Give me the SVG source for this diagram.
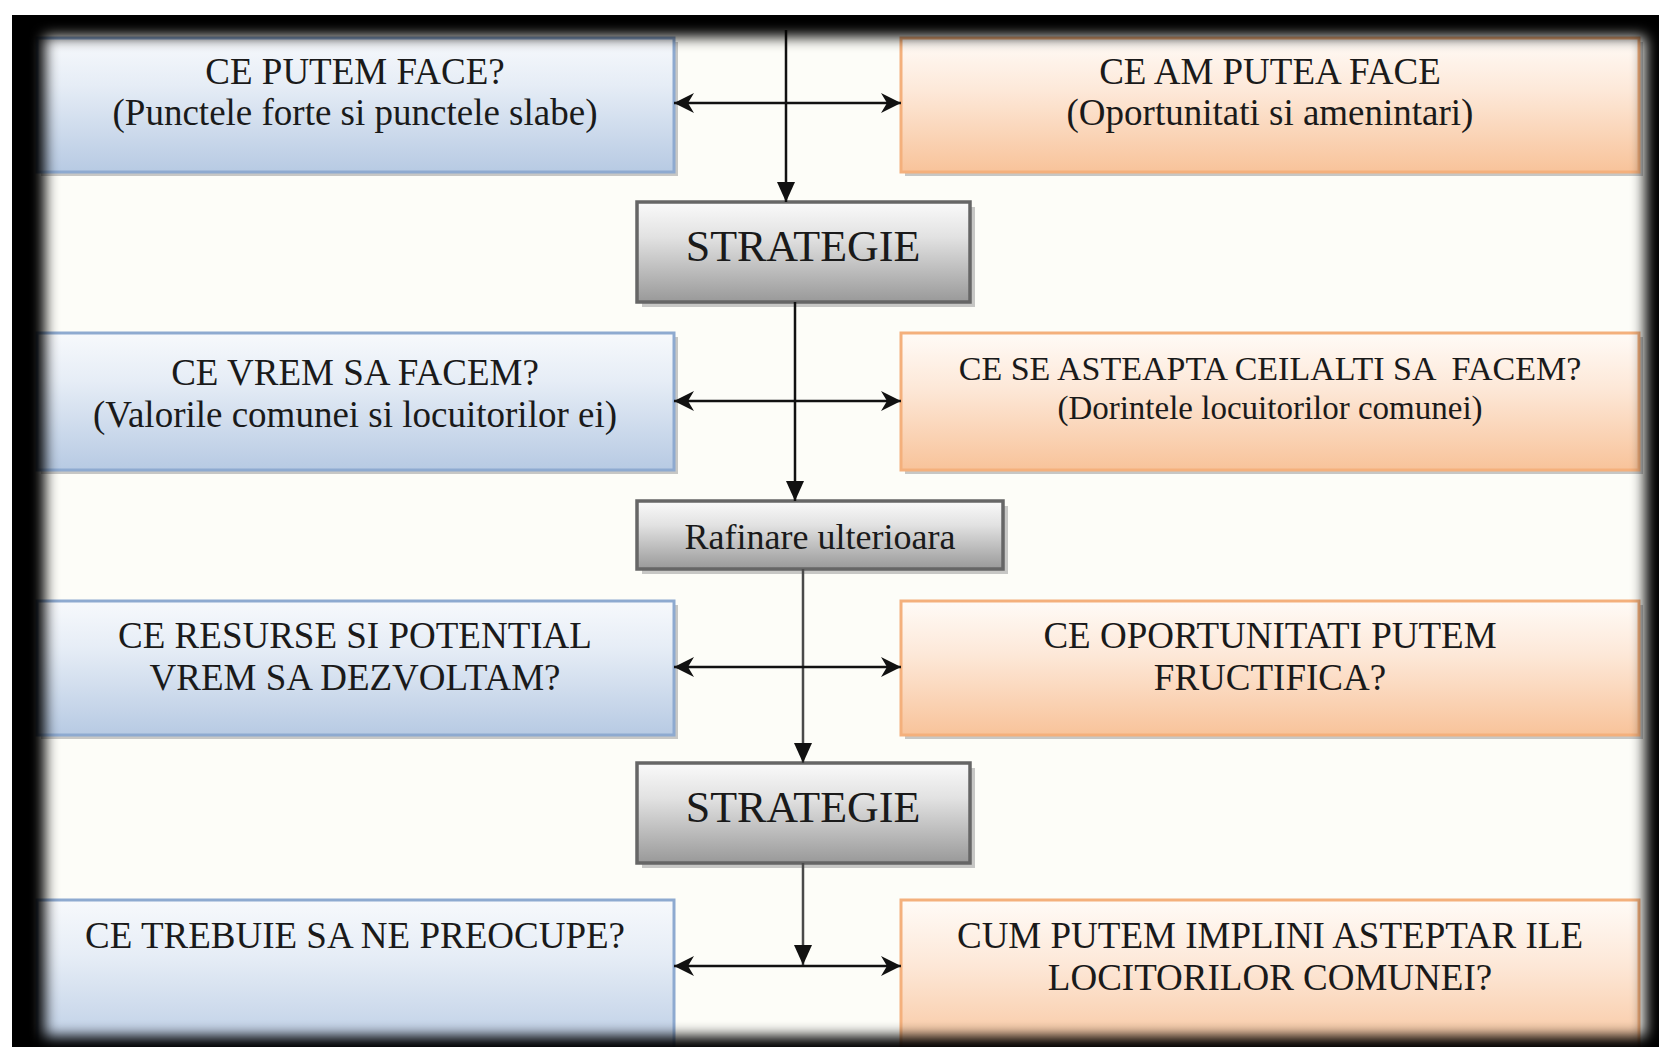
<svg xmlns="http://www.w3.org/2000/svg" width="1659" height="1047" viewBox="0 0 1659 1047">
<style>
.t{font-family:"Liberation Serif","Times New Roman",serif;fill:#1a1a1a;text-anchor:middle;white-space:pre}
.big{font-size:37px}
.mid{font-size:34px}
.mid2{font-size:33px}
.str{font-size:44px}
.raf{font-size:36px}
.blue{fill:url(#gBlue);stroke:#8eaad0;stroke-width:3}
.orange{fill:url(#gOrange);stroke:#f4b07c;stroke-width:3}
.gray{fill:url(#gGray);stroke:#666;stroke-width:3.5}
.shadow{fill:#9a9a9a;opacity:0.55}
.ln{stroke:#111;stroke-width:2.5;fill:none}
.ln2{stroke:#4a4a4a;stroke-width:2.5;fill:none}
</style>
<defs>
<linearGradient id="gBlue" x1="0" y1="0" x2="0" y2="1">
<stop offset="0" stop-color="#f7f9fc"/>
<stop offset="0.35" stop-color="#e6edf6"/>
<stop offset="1" stop-color="#b7cae3"/>
</linearGradient>
<linearGradient id="gOrange" x1="0" y1="0" x2="0" y2="1">
<stop offset="0" stop-color="#fffbf7"/>
<stop offset="0.4" stop-color="#fde8d8"/>
<stop offset="1" stop-color="#f8c39a"/>
</linearGradient>
<linearGradient id="gGray" x1="0" y1="0" x2="0" y2="1">
<stop offset="0" stop-color="#fafafa"/>
<stop offset="0.35" stop-color="#e2e2e2"/>
<stop offset="1" stop-color="#999"/>
</linearGradient>
<marker id="down" markerUnits="userSpaceOnUse" markerWidth="20" markerHeight="18" refX="20" refY="9" orient="auto" viewBox="0 0 20 18">
<path d="M0,0 L20,9 L0,18 Z" fill="#111"/>
</marker>
<marker id="barb" markerUnits="userSpaceOnUse" markerWidth="20" markerHeight="20" refX="20" refY="10" orient="auto-start-reverse" viewBox="0 0 20 20">
<path d="M0,0 L20,10 L0,20 L6,10 Z" fill="#111"/>
</marker>
<filter id="blur" x="-5%" y="-5%" width="110%" height="110%">
<feGaussianBlur stdDeviation="7"/>
</filter>
<clipPath id="frameClip"><rect x="12" y="15" width="1647" height="1032"/></clipPath>
</defs>

<rect x="0" y="0" width="1659" height="1047" fill="#ffffff"/>
<rect x="12" y="15" width="1647" height="1032" fill="#fdfdf8"/>

<g id="node-ce-putem-face">
<rect class="shadow" x="41" y="42" width="637" height="134"/>
<rect class="blue" x="37" y="38" width="637" height="134"/>
<text class="t big" x="355" y="84">CE PUTEM FACE?</text>
<text class="t big" x="355" y="125">(Punctele forte si punctele slabe)</text>
</g>

<g id="node-ce-am-putea-face">
<rect class="shadow" x="905" y="42" width="738" height="134"/>
<rect class="orange" x="901" y="38" width="738" height="134"/>
<text class="t big" x="1270" y="84">CE AM PUTEA FACE</text>
<text class="t big" x="1270" y="125">(Oportunitati si amenintari)</text>
</g>

<g id="node-strategie-1">
<rect class="shadow" x="642" y="207" width="333" height="100"/>
<rect class="gray" x="637" y="202" width="333" height="100"/>
<text class="t str" x="803" y="261">STRATEGIE</text>
</g>

<g id="node-ce-vrem-sa-facem">
<rect class="shadow" x="41" y="337" width="637" height="137"/>
<rect class="blue" x="37" y="333" width="637" height="137"/>
<text class="t big" x="355" y="385">CE VREM SA FACEM?</text>
<text class="t big" x="355" y="427">(Valorile comunei si locuitorilor ei)</text>
</g>

<g id="node-ce-se-asteapta">
<rect class="shadow" x="905" y="337" width="738" height="137"/>
<rect class="orange" x="901" y="333" width="738" height="137"/>
<text class="t mid" x="1270" y="380">CE SE ASTEAPTA CEILALTI SA  FACEM?</text>
<text class="t mid2" x="1270" y="419">(Dorintele locuitorilor comunei)</text>
</g>

<g id="node-rafinare">
<rect class="shadow" x="642" y="506" width="366" height="68"/>
<rect class="gray" x="637" y="501" width="366" height="68"/>
<text class="t raf" x="820" y="549">Rafinare ulterioara</text>
</g>

<g id="node-ce-resurse">
<rect class="shadow" x="41" y="605" width="637" height="134"/>
<rect class="blue" x="37" y="601" width="637" height="134"/>
<text class="t big" x="355" y="648">CE RESURSE SI POTENTIAL</text>
<text class="t big" x="355" y="690">VREM SA DEZVOLTAM?</text>
</g>

<g id="node-ce-oportunitati">
<rect class="shadow" x="905" y="605" width="738" height="134"/>
<rect class="orange" x="901" y="601" width="738" height="134"/>
<text class="t big" x="1270" y="648">CE OPORTUNITATI PUTEM</text>
<text class="t big" x="1270" y="690">FRUCTIFICA?</text>
</g>

<g id="node-strategie-2">
<rect class="shadow" x="642" y="768" width="333" height="100"/>
<rect class="gray" x="637" y="763" width="333" height="100"/>
<text class="t str" x="803" y="822">STRATEGIE</text>
</g>

<g id="node-ce-trebuie">
<rect class="blue" x="37" y="900" width="637" height="160"/>
<text class="t big" x="355" y="948">CE TREBUIE SA NE PREOCUPE?</text>
</g>

<g id="node-cum-putem">
<rect class="orange" x="901" y="900" width="738" height="160"/>
<text class="t big" x="1270" y="948">CUM PUTEM IMPLINI ASTEPTAR ILE</text>
<text class="t big" x="1270" y="990">LOCITORILOR COMUNEI?</text>
</g>

<g id="connectors">
<line class="ln" x1="786" y1="30" x2="786" y2="202" marker-end="url(#down)"/>
<line class="ln" x1="674" y1="103" x2="901" y2="103" marker-start="url(#barb)" marker-end="url(#barb)"/>
<line class="ln" x1="795" y1="302" x2="795" y2="501" marker-end="url(#down)"/>
<line class="ln" x1="674" y1="401" x2="901" y2="401" marker-start="url(#barb)" marker-end="url(#barb)"/>
<line class="ln2" x1="803" y1="569" x2="803" y2="763" marker-end="url(#down)"/>
<line class="ln" x1="674" y1="667" x2="901" y2="667" marker-start="url(#barb)" marker-end="url(#barb)"/>
<line class="ln2" x1="803" y1="863" x2="803" y2="965" marker-end="url(#down)"/>
<line class="ln" x1="674" y1="966" x2="901" y2="966" marker-start="url(#barb)" marker-end="url(#barb)"/>
</g>

<g clip-path="url(#frameClip)">
<path fill="#000" fill-rule="evenodd" filter="url(#blur)" d="M-60,-60 H1720 V1110 H-60 Z M45,37 H1645 V1036 H45 Z"/>
</g>
</svg>
